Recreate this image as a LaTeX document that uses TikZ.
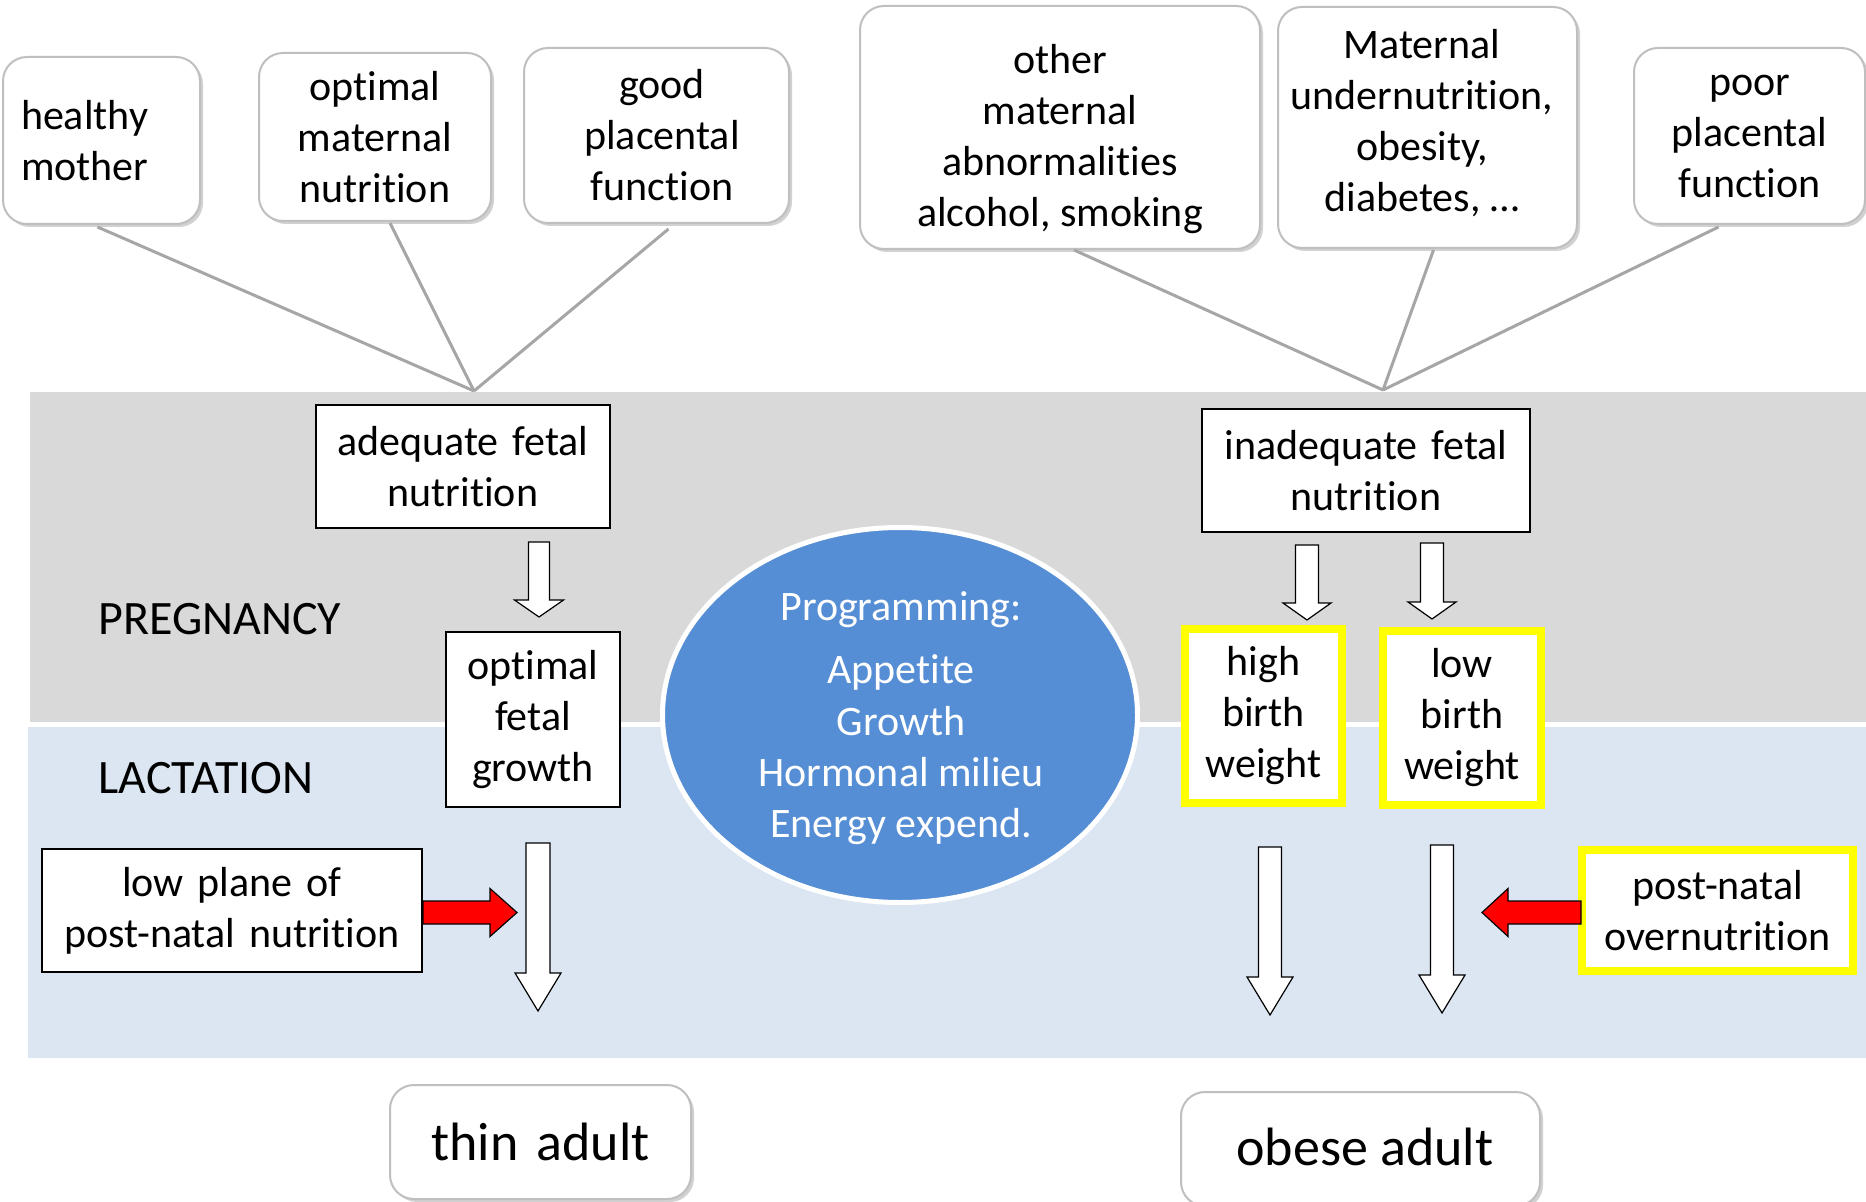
\documentclass[tikz,border=0pt]{standalone}
\usepackage{fontspec}
\setmainfont[Ligatures={NoCommon}]{Carlito}
\frenchspacing
\usetikzlibrary{shapes.geometric,shadows,calc}
\definecolor{bandgray}{RGB}{217,217,217}
\definecolor{bandblue}{RGB}{220,230,242}
\definecolor{boxgray}{RGB}{191,191,191}
\definecolor{linegray}{RGB}{166,166,166}
\definecolor{ellblue}{RGB}{85,142,213}
\definecolor{hiyellow}{RGB}{255,255,0}
\definecolor{arrred}{RGB}{255,0,0}
\newcommand\vdarrow[6]{% x, top, tip, headstart, shafthalf, headhalf
  \draw[blockarr] (#1-#5,#2) -- (#1+#5,#2) -- (#1+#5,#4) -- (#1+#6,#4) -- (#1,#3) -- (#1-#6,#4) -- (#1-#5,#4) -- cycle;}
\newcommand\hrarrow[6]{% ycenter, xstart, xtip, xheadbase, shafthalf, headhalf
  \draw[redarr] (#2,#1-#5) -- (#4,#1-#5) -- (#4,#1-#6) -- (#3,#1) -- (#4,#1+#6) -- (#4,#1+#5) -- (#2,#1+#5) -- cycle;}
\begin{document}
\begin{tikzpicture}[x=0.5pt,y=-0.5pt,
  txt/.style={font=\fontsize{21pt}{25.5pt}\selectfont, inner sep=0pt},
  topbox/.style={txt, draw=boxgray, line width=1pt, fill=white, rounded corners=12pt,
    align=center, drop shadow={shadow xshift=1.5pt, shadow yshift=-1.5pt, opacity=0.18, fill=black}},
  blackbox/.style={txt, draw=black, line width=0.8pt, fill=white, align=center},
  yelbox/.style={txt, draw=hiyellow, line width=4pt, fill=white, align=center},
  adultbox/.style={topbox, font=\fontsize{27pt}{32pt}\selectfont},
  bandlabel/.style={font=\fontsize{24pt}{29pt}\selectfont, inner sep=0pt, anchor=base west},
  elltxt/.style={txt, text=white, anchor=base},
  conn/.style={draw=linegray, line width=1.5pt},
  blockarr/.style={draw=black, line width=0.6pt, fill=white, line join=miter},
  redarr/.style={draw=black, line width=0.6pt, fill=arrred, line join=miter}]
\useasboundingbox (0,0) rectangle (1866,1202);
\fill[white] (0,0) rectangle (1866,1202);

% bands
\fill[bandgray] (30,392) rectangle (1866,722);
\fill[bandblue] (28,727) rectangle (1866,1058);
\node[bandlabel] (preg) at (98,634) {PREGNANCY};
\node[bandlabel] (lact) at (98,793) {LACTATION};

% top boxes
\node[topbox, align=left, text width=80.5pt, inner xsep=9pt, minimum height=83.5pt] (healthy) at (101.5,140.5) {healthy\\mother};
\node[topbox, text width=116pt, minimum height=84pt] (optm) at (375,137) {optimal\\maternal\\nutrition};
\node[topbox, minimum width=132.5pt, minimum height=87.5pt] (goodp) at (656.5,135.5) {};
\node[txt, align=center] (goodtxt) at (662,135.5) {good\\placental\\function};
\node[topbox, minimum width=200pt, minimum height=121.5pt] (other) at (1060,127.5) {};
\node[txt, align=center] (othertxt) at (1060,139) {other\\maternal\\abnormalities\\alcohol, smoking};
\node[topbox, minimum width=149.5pt, minimum height=120.5pt] (matern) at (1427.5,127.5) {};
\node[txt, align=center] (materntxt) at (1422,123) {Maternal\\undernutrition,\\obesity,\\diabetes, …};
\node[topbox, text width=115.5pt, minimum height=88pt] (poorp) at (1749.5,136) {poor\\placental\\function};

% junctions and connectors
\coordinate (jL) at (474,391);
\coordinate (jR) at (1383,390);
\draw[conn] ($(healthy.south)+(-4,2)$) -- (jL);
\draw[conn] ($(optm.south)+(15,1)$) -- (jL);
\draw[conn] ($(goodp.south)+(12,5)$) -- (jL);
\draw[conn] ($(other.south)+(14,0)$) -- (jR);
\draw[conn] ($(matern.south)+(6,1)$) -- (jR);
\draw[conn] ($(poorp.south)+(-31,2)$) -- (jR);

% black boxes
\node[blackbox, text width=147pt, minimum height=61.5pt] (adeq) at (463,466.5) {adequate fetal\\nutrition};
\node[blackbox, text width=87pt, minimum height=87.5pt] (optfg) at (533,719.5) {optimal\\fetal\\growth};
\node[blackbox, text width=164pt, minimum height=61.5pt] (inadeq) at (1366,470.5) {inadequate fetal\\nutrition};
\node[blackbox, text width=190pt, minimum height=61.5pt] (lowplane) at (232,910.5) {low plane of\\post-natal nutrition};

% yellow boxes
\node[yelbox, text width=78.5pt, minimum height=87pt] (hbw) at (1263.5,716) {high\\birth\\weight};
\node[yelbox, text width=79pt, minimum height=87pt] (lbw) at (1462,718) {low\\birth\\weight};
\node[yelbox, text width=135.5pt, minimum height=60.5pt] (postn) at (1717.5,910.5) {post-natal\\overnutrition};

% ellipse
\node[ellipse, draw=white, line width=2.5pt, fill=ellblue, minimum width=237.5pt, minimum height=187.5pt, inner sep=0pt] (prog) at (900,715) {};
\node[elltxt] (p1) at (901,620) {Programming:};
\node[elltxt] (p2) at (901,683) {Appetite};
\node[elltxt] (p3) at (901,735) {Growth};
\node[elltxt] (p4) at (901,786) {Hormonal milieu};
\node[elltxt] (p5) at (901,837) {Energy expend.};

% block arrows
\vdarrow{539}{542}{617}{600}{10.5}{24.5}
\vdarrow{1307}{545}{620}{603}{11.5}{24}
\vdarrow{1432}{543}{619}{602}{11.5}{24}
\vdarrow{538}{843}{1011}{973}{12}{23}
\vdarrow{1270}{847}{1015}{977}{11.5}{23}
\vdarrow{1442}{845}{1013}{975}{11.5}{23}

% red arrows
\hrarrow{912.5}{423}{517}{490}{11.5}{24}
\hrarrow{912.5}{1581}{1482}{1508}{11.5}{24}

% bottom boxes
\node[adultbox, text width=150.5pt, minimum height=57pt] (thin) at (540.5,1142) {thin adult};
\node[adultbox, minimum width=179.5pt, minimum height=57pt] (obese) at (1360.5,1149) {};
\node[txt, font=\fontsize{27pt}{32pt}\selectfont] (obesetxt) at (1365,1147) {obese adult};
\end{tikzpicture}
\end{document}
